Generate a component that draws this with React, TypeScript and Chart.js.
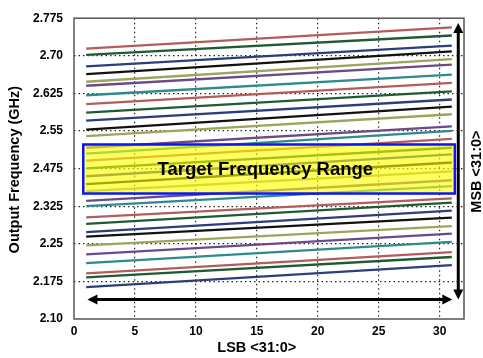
import React, { useEffect, useRef } from 'react';
import { Chart, registerables } from 'chart.js';

Chart.register(...registerables);

// LSB code positions where each MSB curve starts and ends
const lsbPoints = [1, 31];

// Output frequency (GHz, on the plotted linear scale) at LSB = 1 for each MSB curve
const startFreq = [
  2.6393, 2.6268, 2.604, 2.5883, 2.5732, 2.5653, 2.5463, 2.5286, 2.5117, 2.4956,
  2.4776, 2.4646, 2.4416, 2.4299, 2.4161, 2.4004, 2.3847, 2.369, 2.3552, 2.3356,
  2.3252, 2.3028, 2.2899, 2.2734, 2.2643, 2.2467, 2.229, 2.2113, 2.1909, 2.1831,
  2.1634,
];

// Output frequency at LSB = 31 for each MSB curve
const endFreq = [
  2.6818, 2.6655, 2.6454, 2.634, 2.6183, 2.6072, 2.5873, 2.5708, 2.5541, 2.5378,
  2.5235, 2.5084, 2.4842, 2.4754, 2.4593, 2.4416, 2.4285, 2.4122, 2.3945, 2.3768,
  2.3651, 2.3405, 2.3323, 2.316, 2.3022, 2.2852, 2.2702, 2.2537, 2.2335, 2.2237,
  2.2074,
];

const lineColors = ['#b45c5c', '#1f5a34', '#2c3d7c', '#111111', '#9fa35c', '#6c4a88', '#2f8a8a'];

const xTicks = [0, 5, 10, 15, 20, 25, 30];
const yTickValues = [2.1, 2.175, 2.25, 2.325, 2.4, 2.475, 2.55, 2.625, 2.7];
const yTickLabels = ['2.10', '2.175', '2.25', '2.325', '2.475', '2.55', '2.625', '2.70', '2.775'];

// Target frequency range box (data units)
const boxX = [0.76, 31.25];
const boxY = [2.3503, 2.4481];
const boxLabel = 'Target Frequency Range';
const boxLabelX = 15.7;

// Arrows (data units)
const lsbArrowX = [1.1, 31.04];
const lsbArrowY = 2.1387;
const msbArrowX = 31.53;
const msbArrowY = [2.6904, 2.139];

const xTitle = 'LSB <31:0>';
const yTitle = 'Output Frequency (GHz)';
const msbTitle = 'MSB <31:0>';

const FONT = '"Liberation Sans", Arial, Helvetica, sans-serif';

function drawDoubleArrow(ctx: CanvasRenderingContext2D, x1: number, y1: number, x2: number, y2: number) {
  const head = 10;
  const half = 5;
  const ang = Math.atan2(y2 - y1, x2 - x1);
  const c = Math.cos(ang);
  const s = Math.sin(ang);
  ctx.beginPath();
  ctx.moveTo(x1 + c * (head - 1), y1 + s * (head - 1));
  ctx.lineTo(x2 - c * (head - 1), y2 - s * (head - 1));
  ctx.stroke();
  const tri = (tx: number, ty: number, dx: number, dy: number) => {
    ctx.beginPath();
    ctx.moveTo(tx, ty);
    ctx.lineTo(tx - dx * head - dy * half, ty - dy * head + dx * half);
    ctx.lineTo(tx - dx * head + dy * half, ty - dy * head - dx * half);
    ctx.closePath();
    ctx.fill();
  };
  tri(x2, y2, c, s);
  tri(x1, y1, -c, -s);
}

const overlayPlugin = {
  id: 'overlay',
  afterDatasetsDraw(chart: any) {
    const { ctx, chartArea: a, scales } = chart;
    const x = scales.x;
    const y = scales.y;
    ctx.save();
    ctx.setLineDash([]);

    // target range box
    const bx1 = x.getPixelForValue(boxX[0]);
    const bx2 = x.getPixelForValue(boxX[1]);
    const by1 = y.getPixelForValue(boxY[1]);
    const by2 = y.getPixelForValue(boxY[0]);
    ctx.fillStyle = 'rgba(255,255,0,0.62)';
    ctx.fillRect(bx1, by1, bx2 - bx1, by2 - by1);
    ctx.strokeStyle = '#0a14ff';
    ctx.lineWidth = 2.5;
    ctx.strokeRect(bx1, by1, bx2 - bx1, by2 - by1);

    ctx.fillStyle = '#000';
    ctx.font = `bold 18.5px ${FONT}`;
    ctx.textAlign = 'center';
    ctx.textBaseline = 'middle';
    ctx.fillText(boxLabel, x.getPixelForValue(boxLabelX), (by1 + by2) / 2 + 1);

    // arrows
    ctx.strokeStyle = '#000';
    ctx.fillStyle = '#000';
    ctx.lineWidth = 3;
    drawDoubleArrow(
      ctx,
      x.getPixelForValue(lsbArrowX[0]), y.getPixelForValue(lsbArrowY),
      x.getPixelForValue(lsbArrowX[1]), y.getPixelForValue(lsbArrowY)
    );
    drawDoubleArrow(
      ctx,
      x.getPixelForValue(msbArrowX), y.getPixelForValue(msbArrowY[0]),
      x.getPixelForValue(msbArrowX), y.getPixelForValue(msbArrowY[1])
    );

    // frame
    ctx.strokeStyle = '#555';
    ctx.lineWidth = 1.5;
    ctx.strokeRect(a.left, a.top, a.right - a.left, a.bottom - a.top);

    // titles
    ctx.fillStyle = '#000';
    ctx.font = `bold 14.5px ${FONT}`;
    ctx.textAlign = 'center';
    ctx.textBaseline = 'middle';
    ctx.fillText(xTitle, x.getPixelForValue(15), a.bottom + 29);

    const midY = (a.top + a.bottom) / 2;
    ctx.save();
    ctx.translate(15, midY + 1);
    ctx.rotate(-Math.PI / 2);
    ctx.fillText(yTitle, 0, 0);
    ctx.restore();

    ctx.save();
    ctx.translate(a.right + 13, midY + 3);
    ctx.rotate(-Math.PI / 2);
    ctx.fillText(msbTitle, 0, 0);
    ctx.restore();

    ctx.restore();
  },
};

export default function App() {
  const canvasRef = useRef<HTMLCanvasElement | null>(null);

  useEffect(() => {
    document.body.style.margin = '0';
    const canvas = canvasRef.current;
    if (!canvas) return;

    const datasets = startFreq.map((s, i) => ({
      label: `MSB ${i}`,
      data: [
        { x: lsbPoints[0], y: s },
        { x: lsbPoints[1], y: endFreq[i] },
      ],
      borderColor: lineColors[i % lineColors.length],
      borderWidth: 2.3,
      pointRadius: 0,
      fill: false,
      tension: 0,
    }));

    const chart = new Chart(canvas, {
      type: 'line',
      data: { datasets },
      options: {
        animation: false,
        responsive: false,
        maintainAspectRatio: false,
        layout: { padding: { top: 13.4, right: 19, left: 0, bottom: 0 } },
        plugins: { legend: { display: false }, tooltip: { enabled: false } },
        scales: {
          x: {
            type: 'linear',
            min: 0,
            max: 32,
            afterBuildTicks: (s: any) => {
              s.ticks = xTicks.map((v) => ({ value: v }));
            },
            afterFit: (s: any) => {
              s.height = 39;
            },
            ticks: {
              color: '#000',
              font: { family: FONT, size: 12, weight: 'bold' },
              padding: 5,
              maxRotation: 0,
              autoSkip: false,
            },
            grid: {
              drawTicks: false,
              lineWidth: 1.2,
              color: (c: any) => (c.index === 0 ? 'rgba(0,0,0,0)' : 'rgba(0,0,0,0.85)'),
            },
            border: { display: false, dash: [1.5, 3] },
          },
          y: {
            type: 'linear',
            min: 2.1,
            max: 2.7,
            afterBuildTicks: (s: any) => {
              s.ticks = yTickValues.map((v) => ({ value: v }));
            },
            afterFit: (s: any) => {
              s.width = 74;
            },
            ticks: {
              color: '#000',
              font: { family: FONT, size: 12, weight: 'bold' },
              padding: 11,
              autoSkip: false,
              callback: (_v: any, i: number) => yTickLabels[i],
            },
            grid: {
              drawTicks: false,
              lineWidth: 1.2,
              color: (c: any) =>
                c.index === 0 || c.index === yTickValues.length - 1 ? 'rgba(0,0,0,0)' : 'rgba(0,0,0,0.85)',
            },
            border: { display: false, dash: [1.5, 3] },
          },
        },
      },
      plugins: [overlayPlugin],
    } as any);

    return () => chart.destroy();
  }, []);

  return (
    <div style={{ position: 'fixed', left: 0, top: 0, width: 483, height: 358, background: '#fff' }}>
      <canvas ref={canvasRef} width={483} height={358} style={{ width: 483, height: 358, display: 'block' }} />
    </div>
  );
}
